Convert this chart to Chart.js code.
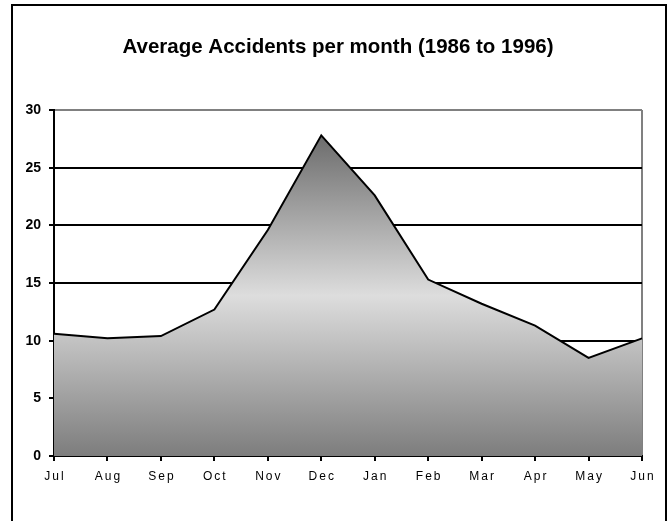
<!DOCTYPE html>
<html>
<head>
<meta charset="utf-8">
<script src="https://cdn.jsdelivr.net/npm/chart.js@4/dist/chart.umd.min.js"></script>
<style>
  html, body { margin: 0; padding: 0; background: #ffffff; }
  #wrap { width: 671px; height: 521px; }
</style>
</head>
<body>
<div id="wrap"><canvas id="c" width="671" height="521"></canvas></div>
<script>
const titleText = 'Average Accidents per month (1986 to 1996)';
const months = ['Jul','Aug','Sep','Oct','Nov','Dec','Jan','Feb','Mar','Apr','May','Jun'];
const accidents = [10.6, 10.2, 10.4, 12.7, 19.6, 27.8, 22.6, 15.3, 13.2, 11.3, 8.5, 10.2];
const yTicks = [0, 5, 10, 15, 20, 25, 30];

const frame = {
  id: 'frame',
  beforeDraw(chart) {
    const ctx = chart.ctx;
    ctx.save();
    ctx.fillStyle = '#ffffff';
    ctx.fillRect(0, 0, chart.width, chart.height);
    ctx.strokeStyle = '#000000';
    ctx.lineWidth = 2;
    ctx.strokeRect(12, 5, 654, 600);
    ctx.restore();
    const xs = chart.scales.x;
    if (xs && !xs._spaced) {
      const orig = xs.drawLabels;
      xs.drawLabels = function (area) {
        const c = this.ctx;
        c.save();
        c.letterSpacing = '2px';
        c.translate(1, 0);
        orig.call(this, area);
        c.restore();
      };
      xs._spaced = true;
    }
    const tb = chart.titleBlock;
    if (tb && !tb._shifted) {
      const origDraw = tb.draw;
      tb.draw = function () {
        const c = this.ctx;
        c.save();
        c.translate(17, 0);
        origDraw.apply(this, arguments);
        c.restore();
      };
      tb._shifted = true;
    }
  }
};

function areaGradient(context) {
  const chart = context.chart;
  const area = chart.chartArea;
  if (!area) return '#bbbbbb';
  const top = chart.scales.y.getPixelForValue(Math.max(...accidents));
  const g = chart.ctx.createLinearGradient(0, top, 0, area.bottom);
  g.addColorStop(0, '#6c6c6c');
  g.addColorStop(0.5, '#dddddd');
  g.addColorStop(1, '#7d7d7d');
  return g;
}

new Chart(document.getElementById('c'), {
  type: 'line',
  data: {
    labels: months,
    datasets: [{
      data: accidents,
      borderColor: '#000000',
      borderWidth: 2,
      backgroundColor: areaGradient,
      fill: 'origin',
      tension: 0,
      pointRadius: 0,
      pointHoverRadius: 0
    }]
  },
  options: {
    responsive: false,
    animation: false,
    events: [],
    layout: { padding: { left: 0, right: 29, top: 0, bottom: 0 } },
    plugins: {
      legend: { display: false },
      tooltip: { enabled: false },
      title: {
        display: true,
        text: titleText,
        color: '#000000',
        font: { family: 'Liberation Sans, Arial, sans-serif', size: 20.5, weight: 'bold', lineHeight: 1.2 },
        padding: { top: 34.7, bottom: 50.7 }
      }
    },
    scales: {
      x: {
        type: 'category',
        offset: false,
        grid: {
          display: true,
          drawOnChartArea: true,
          offset: false,
          lineWidth: 2,
          color: (c) => (c.index === months.length - 1 ? '#808080' : 'rgba(0,0,0,0)'),
          tickColor: '#000000',
          tickLength: 5
        },
        border: { display: true, color: '#000000', width: 2 },
        ticks: {
          color: '#000000',
          font: { family: 'Liberation Sans, Arial, sans-serif', size: 12 },
          padding: 8,
          maxRotation: 0,
          autoSkip: false
        },
        afterFit(scale) { scale.height = 65; }
      },
      y: {
        min: 0,
        max: 30,
        afterBuildTicks(scale) { scale.ticks = yTicks.map(v => ({ value: v })); },
        grid: {
          lineWidth: 2,
          color: (c) => (c.tick && c.tick.value === 30 ? '#808080' : '#000000'),
          tickColor: '#000000',
          tickLength: 5
        },
        border: { display: true, color: '#000000', width: 2 },
        ticks: {
          color: '#000000',
          font: { family: 'Liberation Sans, Arial, sans-serif', size: 14, weight: 'bold' },
          padding: 8
        },
        afterFit(scale) { scale.width = 54; }
      }
    }
  },
  plugins: [frame]
});
</script>
</body>
</html>
